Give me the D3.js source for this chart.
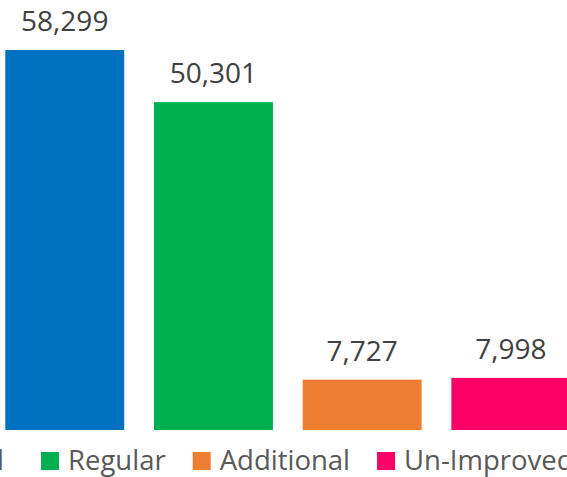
<!DOCTYPE html>
<html>
<head>
<meta charset="utf-8">
<script src="https://cdn.jsdelivr.net/npm/d3@7"></script>
<style>
  html, body { margin: 0; padding: 0; background: #fff; overflow: hidden; }
  svg { display: block; font-family: "Open Sans", sans-serif; }
</style>
</head>
<body>
<svg id="chart" width="567" height="477"></svg>
<script>
// chart data
let categories = ['Total', 'Regular', 'Additional', 'Un-Improved'];
let values = [58299, 50301, 7727, 7998];
let colors = ['#0070C0', '#00B050', '#ED7D31', '#FF0066'];

let svg = d3.select('#chart');

let x = d3.scaleBand()
    .domain(categories)
    .range([-9.6, 585.2])
    .paddingInner(0.2)
    .paddingOuter(0.1);

let y = d3.scaleLinear()
    .domain([0, 58299])
    .range([430, 50]);

// bars
svg.selectAll('rect.bar')
    .data(values)
    .enter()
    .append('rect')
    .attr('class', 'bar')
    .attr('x', (d, i) => x(categories[i]))
    .attr('y', d => y(d))
    .attr('width', x.bandwidth())
    .attr('height', d => y(0) - y(d))
    .attr('fill', (d, i) => colors[i]);

// value labels
svg.selectAll('text.val')
    .data(values)
    .enter()
    .append('text')
    .attr('class', 'val')
    .attr('x', (d, i) => x(categories[i]) + x.bandwidth() / 2)
    .attr('y', d => y(d) - 19)
    .attr('text-anchor', 'middle')
    .attr('font-size', 28)
    .attr('fill', '#404040')
    .text(d => d3.format(',')(d));

// legend (cropped on the left, like the original picture)
let legend = svg.append('g');
let items = categories.map((c, i) => {
    let item = legend.append('g');
    item.append('rect')
        .attr('x', 0).attr('y', 452)
        .attr('width', 18).attr('height', 18)
        .attr('fill', colors[i]);
    let t = item.append('text')
        .attr('x', 27).attr('y', 469.5)
        .attr('font-size', 27.5)
        .attr('fill', '#595959')
        .text(c);
    return { g: item, w: 27 + t.node().getComputedTextLength() };
});
let pos = 41;
items.forEach((it, i) => {
    if (i === 0) return;
    it.g.attr('transform', `translate(${pos},0)`);
    pos += it.w + 27;
});
// first key: its text ends just inside the left edge
items[0].g.attr('transform', `translate(${4 - items[0].w},0)`);
</script>
</body>
</html>
